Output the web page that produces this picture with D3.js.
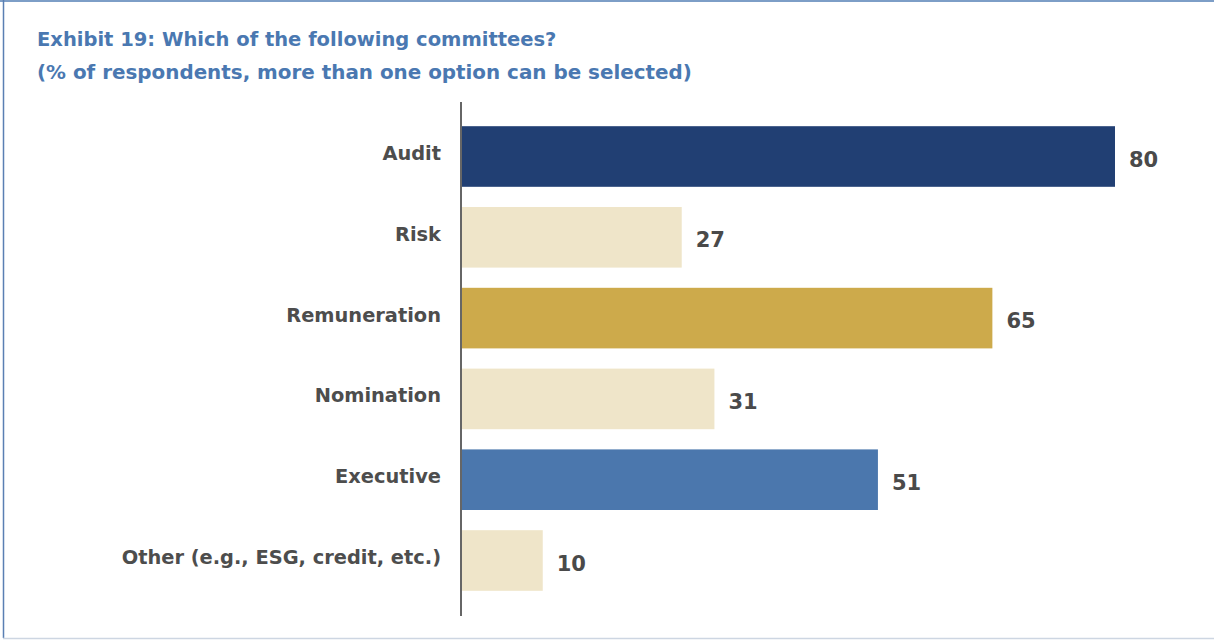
<!DOCTYPE html>
<html>
<head>
<meta charset="utf-8">
<script src="https://cdn.jsdelivr.net/npm/d3@7"></script>
<style>
  html, body { margin: 0; padding: 0; background: #fff; }
  svg { display: block; }
  text { font-family: "DejaVu Sans", sans-serif; }
</style>
</head>
<body>
<svg id="chart" width="1214" height="640"></svg>
<script>
// Committee names, share of respondents (%), and bar fills
const categories = [
  "Audit",
  "Risk",
  "Remuneration",
  "Nomination",
  "Executive",
  "Other (e.g., ESG, credit, etc.)"
];
const values = [80, 27, 65, 31, 51, 10];
const barColors = ["#213f73", "#efe5c9", "#cdaa4b", "#efe5c9", "#4b77ad", "#efe5c9"];
const titleLines = [
  "Exhibit 19: Which of the following committees?",
  "(% of respondents, more than one option can be selected)"
];

const W = 1214, H = 640;
const svg = d3.select("#chart");

// Frame: blue rule on top and left, pale rule at the bottom
svg.append("line").attr("x1", 0).attr("x2", W).attr("y1", 1).attr("y2", 1)
  .attr("stroke", "#7d9ec7").attr("stroke-width", 2);
svg.append("line").attr("x1", 3.5).attr("x2", 3.5).attr("y1", 0).attr("y2", H - 2)
  .attr("stroke", "#5a7fb3").attr("stroke-width", 1.5);
svg.append("line").attr("x1", 3).attr("x2", W).attr("y1", 638.5).attr("y2", 638.5)
  .attr("stroke", "#cdd6e2").attr("stroke-width", 1.5);

// Title
svg.append("g").selectAll("text").data(titleLines).join("text")
  .attr("x", 37).attr("y", (d, i) => 46 + i * 33)
  .attr("fill", "#4a78b1")
  .attr("font-size", (d, i) => i === 0 ? 19.5 : 19.9).attr("font-weight", "bold")
  .text(d => d);

const x = d3.scaleLinear().domain([0, 80]).range([461, 1115]);
const y = d3.scaleBand().domain(categories).range([106, 611])
  .paddingInner(0.25).paddingOuter(0.25);

// Bars
svg.append("g").selectAll("rect").data(values).join("rect")
  .attr("x", x(0))
  .attr("y", (d, i) => y(categories[i]))
  .attr("width", d => x(d) - x(0))
  .attr("height", y.bandwidth())
  .attr("fill", (d, i) => barColors[i]);

// Category axis
const yAxis = d3.axisLeft(y).tickSize(0).tickPadding(20);
const ag = svg.append("g").attr("transform", `translate(${x(0)},0)`).call(yAxis);
ag.select(".domain").remove();
ag.selectAll("text")
  .attr("font-family", "DejaVu Sans, sans-serif")
  .attr("font-size", 19.4).attr("font-weight", "bold")
  .attr("fill", "#4d4d4d")
  .attr("dy", "0.18em");
svg.append("line")
  .attr("x1", x(0)).attr("x2", x(0)).attr("y1", 102).attr("y2", 616)
  .attr("stroke", "#666").attr("stroke-width", 2);

// Value labels
svg.append("g").selectAll("text").data(values).join("text")
  .attr("x", d => x(d) + 14)
  .attr("y", (d, i) => y(categories[i]) + y.bandwidth() / 2 + 3)
  .attr("dominant-baseline", "central")
  .attr("font-size", 21).attr("font-weight", "bold")
  .attr("fill", "#4a4a4a")
  .text(d => d);
</script>
</body>
</html>
